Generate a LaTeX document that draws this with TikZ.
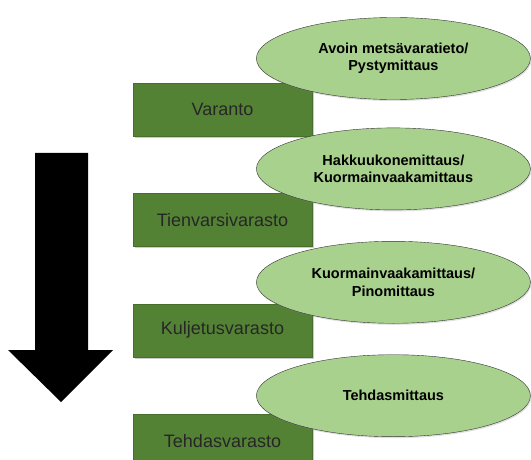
\documentclass[tikz,border=0pt]{standalone}
\usepackage{fontspec}
\setmainfont{Liberation Sans}
\usepackage{xcolor}
\usepackage{tikz}
\usetikzlibrary{shapes,positioning,shadows}

\definecolor{varastogreen}{HTML}{548235}
\definecolor{mittausgreen}{HTML}{A9D18E}

\begin{document}
\begin{tikzpicture}[x=1pt, y=1pt, node distance=57pt,
    varasto/.style={rectangle, draw=varastogreen!85!black, fill=varastogreen, minimum width=179pt, minimum height=53pt, text=black!85, font=\fontsize{18}{21}\selectfont, drop shadow={shadow xshift=1.5pt, shadow yshift=-2pt, opacity=0.4}},
    mittaus/.style={ellipse, draw=black!80, fill=mittausgreen, minimum width=274pt, minimum height=82pt, align=center, font=\bfseries\fontsize{14.5}{17.5}\selectfont, drop shadow={shadow xshift=1pt, shadow yshift=-1.5pt, opacity=0.25}}]
    \useasboundingbox (0,0) rectangle (531,459);

    % Storage levels
    \node (varanto) [varasto] at (222.5,349.5) {Varanto};
    \node (tienvarsi) [varasto, below=of varanto] {Tienvarsivarasto};
    \node (kuljetus) [varasto, below=of tienvarsi] {Kuljetusvarasto};
    \node (tehdas) [varasto, below=of kuljetus] {Tehdasvarasto};

    % Measurement methods
    \node (pysty) [mittaus, right=-56pt of varanto, yshift=51pt] {Avoin metsävaratieto/\\Pystymittaus};
    \node (hakkuu) [mittaus, right=-56pt of tienvarsi, yshift=51pt] {Hakkuukonemittaus/\\Kuormainvaakamittaus};
    \node (pino) [mittaus, right=-56pt of kuljetus, yshift=48pt] {Kuormainvaakamittaus/\\Pinomittaus};
    \node (tehdasm) [mittaus, right=-56pt of tehdas, yshift=45pt] {Tehdasmittaus};

    % Big arrow
    \fill[black] (35,306) -- (88,306) -- (88,109) -- (113,109) -- (61,57) -- (8,109) -- (35,109) -- cycle;
\end{tikzpicture}
\end{document}
